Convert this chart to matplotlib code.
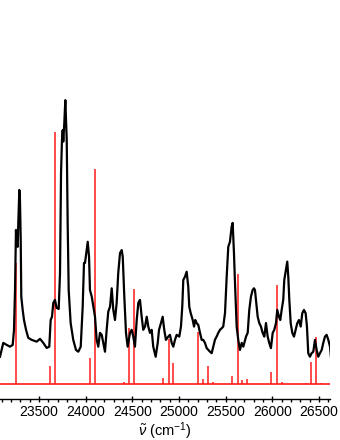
import matplotlib
matplotlib.use("Agg")
import matplotlib.pyplot as plt
from matplotlib.ticker import MultipleLocator

plt.rcParams["font.family"] = ["Liberation Sans", "DejaVu Sans"]
plt.rcParams["mathtext.fontset"] = "custom"
plt.rcParams["mathtext.rm"] = "Liberation Sans"
plt.rcParams["mathtext.it"] = "Liberation Sans:italic"

# Experimental spectrum (wavenumber in cm^-1, intensity in arb. units)
spec_wn = [23082, 23117, 23154, 23189, 23218, 23232, 23243, 23253, 23261, 23272,
           23278, 23289, 23296, 23304, 23310, 23325, 23339, 23361, 23385, 23422,
           23475, 23511, 23546, 23582, 23610, 23625, 23639, 23653, 23671, 23689,
           23711, 23725, 23736, 23746, 23754, 23760, 23771, 23782, 23797, 23807,
           23818, 23839, 23867, 23896, 23921, 23947, 23968, 23982, 23993, 24011,
           24022, 24036, 24046, 24065, 24082, 24100, 24118, 24135, 24153, 24172,
           24189, 24207, 24225, 24242, 24261, 24279, 24296, 24314, 24332, 24349,
           24368, 24386, 24397, 24414, 24432, 24450, 24475, 24493, 24510, 24528,
           24547, 24564, 24582, 24600, 24617, 24636, 24654, 24671, 24689, 24707,
           24724, 24750, 24772, 24786, 24807, 24825, 24842, 24860, 24885, 24903,
           24922, 24939, 24957, 24975, 25003, 25021, 25035, 25046, 25064, 25082,
           25099, 25110, 25125, 25147, 25161, 25174, 25189, 25207, 25225, 25243,
           25260, 25278, 25297, 25314, 25332, 25350, 25367, 25385, 25403, 25421,
           25439, 25457, 25474, 25493, 25511, 25528, 25546, 25564, 25575, 25589,
           25600, 25618, 25635, 25653, 25672, 25689, 25718, 25736, 25753, 25771,
           25789, 25803, 25814, 25825, 25843, 25860, 25878, 25896, 25914, 25932,
           25950, 25967, 25985, 26004, 26021, 26039, 26053, 26071, 26085, 26100,
           26117, 26128, 26143, 26160, 26171, 26182, 26197, 26214, 26232, 26250,
           26267, 26285, 26304, 26321, 26339, 26357, 26371, 26385, 26403, 26421,
           26439, 26457, 26475, 26492, 26510, 26529, 26546, 26564, 26582, 26600,
           26618, 26628]
spec_int = [10.8, 16.3, 15.5, 14.8, 15.5, 21.5, 37.3, 61.2, 56.0, 54.5,
            64.0, 77.1, 73.1, 57.2, 34.7, 29.4, 25.4, 21.5, 18.3, 17.5,
            16.8, 17.9, 16.3, 14.3, 14.8, 25.4, 26.7, 32.2, 33.4, 30.2,
            29.8, 44.1, 83.8, 96.9, 100.9, 96.3, 103.7, 112.8, 96.9, 64.0,
            37.3, 24.2, 17.5, 13.5, 12.8, 14.8, 30.7, 48.1, 48.1, 53.2,
            56.5, 50.6, 37.3, 34.7, 30.7, 26.7, 17.5, 14.8, 20.3, 19.5,
            16.3, 12.8, 21.5, 28.7, 30.7, 38.0, 29.4, 25.4, 32.2, 44.1,
            52.0, 53.2, 50.6, 34.7, 20.3, 14.8, 20.3, 21.5, 18.8, 14.8,
            25.4, 32.2, 33.4, 26.7, 21.5, 22.8, 26.7, 22.8, 20.3, 21.5,
            14.8, 10.8, 16.3, 21.5, 24.2, 26.7, 21.5, 17.5, 18.8, 19.5,
            16.3, 14.8, 17.5, 19.5, 18.8, 22.8, 30.7, 41.3, 42.6, 44.6,
            38.7, 30.7, 28.2, 25.4, 22.8, 25.4, 24.2, 23.4, 20.3, 17.5,
            17.5, 16.3, 14.2, 13.5, 12.8, 12.2, 14.8, 17.5, 18.8, 20.3,
            21.5, 22.1, 22.8, 28.2, 42.6, 54.5, 56.5, 62.5, 64.0, 52.0,
            40.1, 22.8, 17.5, 13.5, 16.3, 14.8, 18.8, 20.3, 29.4, 34.7,
            37.3, 38.0, 37.3, 33.4, 26.7, 24.2, 22.8, 20.3, 18.8, 24.2,
            18.8, 16.3, 14.2, 20.3, 21.5, 24.1, 29.4, 26.7, 25.4, 29.4,
            33.4, 41.3, 44.6, 48.6, 42.6, 33.4, 24.1, 20.3, 18.8, 21.5,
            24.1, 25.4, 22.8, 28.1, 29.4, 28.1, 22.8, 12.2, 10.8, 12.2,
            12.8, 17.5, 13.5, 10.8, 12.2, 13.5, 16.3, 18.8, 19.5, 17.5,
            14.8, 10.8]

# Calculated transitions (stick spectrum)
stick_wn = [23254, 23621, 23675, 24043, 24097, 24411, 24464, 24518, 24832, 24889,
            24939, 25200, 25254, 25307, 25361, 25571, 25629, 25678, 25729, 25989,
            26047, 26100, 26361, 26414, 26468, 26521]
stick_int = [48.2, 7.2, 100.0, 10.4, 85.4, 0.9, 22.1, 37.6, 2.3, 18.0,
             8.5, 20.5, 1.9, 7.3, 0.9, 3.2, 43.6, 1.7, 2.0, 4.6,
             39.3, 0.9, 0.5, 8.6, 18.7, 0.5]

fig = plt.figure(figsize=(3.4, 4.4), dpi=100)
ax = fig.add_axes([0, 41 / 440, 330 / 340, 399 / 440])

ax.axhline(0, color="#ff1a1a", lw=1.2, zorder=1)
ax.vlines(stick_wn, 0, stick_int, color="#ff1a1a", lw=1.1, zorder=2)
ax.plot(spec_wn, spec_int, color="black", lw=1.6, zorder=3)

ax.set_xlim(23082, 26618)
ax.set_ylim(-6, 152.6)

for s in ["left", "top", "right"]:
    ax.spines[s].set_visible(False)
ax.spines["bottom"].set_linewidth(1.0)
ax.set_yticks([])

ax.xaxis.set_major_locator(MultipleLocator(500))
ax.xaxis.set_minor_locator(MultipleLocator(100))
ax.tick_params(axis="x", which="major", direction="inout", length=5, width=1, labelsize=10, pad=2)
ax.tick_params(axis="x", which="minor", direction="out", length=2.5, width=1)
ax.set_xlabel(r"$\tilde{\nu}$ (cm$^{-1}$)", fontsize=10.5, labelpad=0.5)

fig.savefig("out.png", dpi=100)
